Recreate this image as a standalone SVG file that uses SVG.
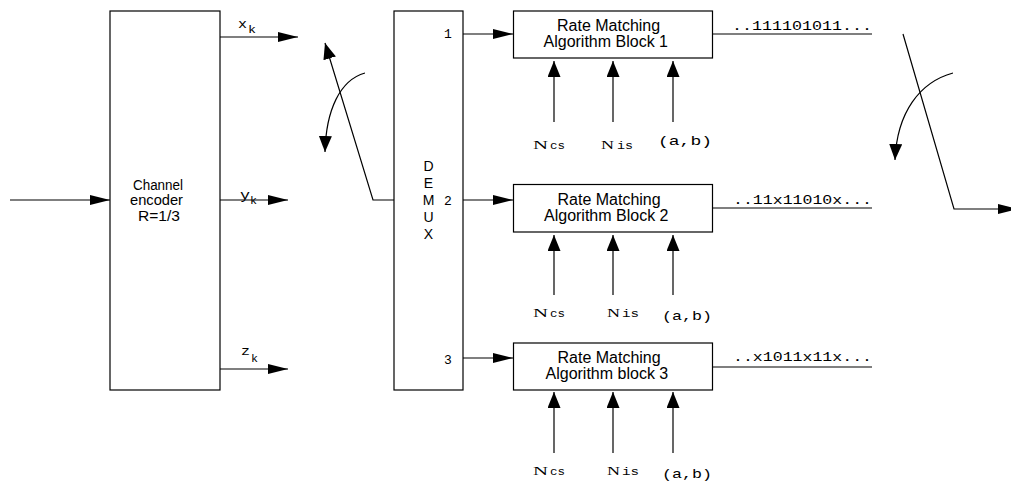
<svg xmlns="http://www.w3.org/2000/svg" width="1011" height="485" viewBox="0 0 1011 485">
<style>
.box{fill:#fff;stroke:#000;stroke-width:1.2}
.ln{fill:none;stroke:#000;stroke-width:1.2}
.sans{font-family:"Liberation Sans",Arial,sans-serif;fill:#000}
.mono{font-family:"Liberation Mono","Courier New",monospace;fill:#000}
.ser{font-family:"Liberation Serif","Times New Roman",serif;fill:#000}
</style>
<defs>
<marker id="ah" markerUnits="userSpaceOnUse" markerWidth="20" markerHeight="10" refX="20" refY="5" orient="auto"><path d="M0,0 L20,5 L0,10 z" fill="#000"/></marker>
<marker id="av" markerUnits="userSpaceOnUse" markerWidth="16" markerHeight="13" refX="16" refY="6.5" orient="auto"><path d="M0,0 L16,6.5 L0,13 z" fill="#000"/></marker>
</defs>
<rect width="1011" height="485" fill="#fff"/>
<g id="connectors">
<line class="ln" x1="10" y1="200" x2="110" y2="200" marker-end="url(#ah)"/>
<line class="ln" x1="220" y1="37" x2="298" y2="37" marker-end="url(#ah)"/>
<line class="ln" x1="220" y1="200" x2="288" y2="200" marker-end="url(#ah)"/>
<line class="ln" x1="220" y1="369" x2="288" y2="369" marker-end="url(#ah)"/>
<polyline class="ln" points="394,200 373,200 325,43" marker-end="url(#av)"/>
<path class="ln" d="M365,73 C340,80 326,110 325,152" marker-end="url(#av)"/>
<line class="ln" x1="463" y1="34" x2="513" y2="34" marker-end="url(#ah)"/>
<line class="ln" x1="463" y1="200" x2="513" y2="200" marker-end="url(#ah)"/>
<line class="ln" x1="463" y1="358" x2="513" y2="358" marker-end="url(#ah)"/>
<line class="ln" x1="554" y1="122" x2="554" y2="61" marker-end="url(#av)"/>
<line class="ln" x1="613" y1="122" x2="613" y2="61" marker-end="url(#av)"/>
<line class="ln" x1="673" y1="122" x2="673" y2="61" marker-end="url(#av)"/>
<line class="ln" x1="554" y1="295" x2="554" y2="235" marker-end="url(#av)"/>
<line class="ln" x1="613" y1="295" x2="613" y2="235" marker-end="url(#av)"/>
<line class="ln" x1="673" y1="295" x2="673" y2="235" marker-end="url(#av)"/>
<line class="ln" x1="554" y1="453" x2="554" y2="392" marker-end="url(#av)"/>
<line class="ln" x1="613" y1="453" x2="613" y2="392" marker-end="url(#av)"/>
<line class="ln" x1="673" y1="453" x2="673" y2="392" marker-end="url(#av)"/>
<line class="ln" x1="713" y1="34" x2="872" y2="34"/>
<line class="ln" x1="713" y1="208" x2="872" y2="208"/>
<line class="ln" x1="713" y1="367" x2="872" y2="367"/>
<polyline class="ln" points="903,34 954,209 1018,209" marker-end="url(#ah)"/>
<path class="ln" d="M953,73 C920,82 897,112 895,160" marker-end="url(#av)"/>
</g>
<g id="encoder">
<rect class="box" x="110" y="11" width="110" height="379"/>
<text class="sans" font-size="14" x="133" y="189.5" textLength="50" lengthAdjust="spacingAndGlyphs">Channel</text>
<text class="sans" font-size="14" x="130" y="205" textLength="53" lengthAdjust="spacingAndGlyphs">encoder</text>
<text class="sans" font-size="14" x="138" y="221" textLength="42" lengthAdjust="spacingAndGlyphs">R=1/3</text>
</g>
<g id="labels-xyz">
<text class="mono" font-size="13" x="238" y="28" textLength="9" lengthAdjust="spacingAndGlyphs">x</text>
<text class="mono" font-size="10" x="248" y="33" textLength="8" lengthAdjust="spacingAndGlyphs">k</text>
<text class="mono" font-size="13" x="240" y="199" textLength="10" lengthAdjust="spacingAndGlyphs">y</text>
<text class="mono" font-size="10" x="250" y="204" textLength="7" lengthAdjust="spacingAndGlyphs">k</text>
<text class="mono" font-size="13" x="241" y="355" textLength="9" lengthAdjust="spacingAndGlyphs">z</text>
<text class="mono" font-size="10" x="251" y="362" textLength="7" lengthAdjust="spacingAndGlyphs">k</text>
</g>
<g id="demux">
<rect class="box" x="394" y="11" width="69" height="379"/>
<g class="sans" font-size="14" text-anchor="middle">
<text x="428.5" y="171">D</text>
<text x="428.5" y="188">E</text>
<text x="428.5" y="205">M</text>
<text x="428.5" y="221.5">U</text>
<text x="428.5" y="238.5">X</text>
</g>
<text class="mono" font-size="13" x="444" y="38">1</text>
<text class="mono" font-size="13" x="444" y="205">2</text>
<text class="mono" font-size="13" x="444" y="364">3</text>
</g>
<g id="rm1">
<rect class="box" x="513.5" y="11" width="199" height="47"/>
<text class="sans" font-size="16" x="557" y="31">Rate Matching</text>
<text class="sans" font-size="16" x="543.5" y="47">Algorithm Block 1</text>
</g>
<g id="rm2">
<rect class="box" x="513.5" y="184.5" width="199" height="47.5"/>
<text class="sans" font-size="16" x="557.5" y="205">Rate Matching</text>
<text class="sans" font-size="16" x="544" y="221">Algorithm Block 2</text>
</g>
<g id="rm3">
<rect class="box" x="513.5" y="343" width="199" height="47"/>
<text class="sans" font-size="16" x="557.5" y="363">Rate Matching</text>
<text class="sans" font-size="16" x="545.5" y="379">Algorithm block 3</text>
</g>
<g id="params1">
<text class="ser" font-size="12" x="533" y="149" textLength="15" lengthAdjust="spacingAndGlyphs">N</text>
<text class="mono" font-size="11" x="550" y="149" textLength="15" lengthAdjust="spacingAndGlyphs">cs</text>
<text class="ser" font-size="12" x="601" y="149" textLength="13" lengthAdjust="spacingAndGlyphs">N</text>
<text class="mono" font-size="11" x="617" y="149" textLength="16" lengthAdjust="spacingAndGlyphs">is</text>
<text class="mono" font-size="13" x="658" y="145" textLength="54" lengthAdjust="spacingAndGlyphs">(a,b)</text>
</g>
<g id="params2">
<text class="ser" font-size="12" x="533" y="316.5" textLength="15" lengthAdjust="spacingAndGlyphs">N</text>
<text class="mono" font-size="11" x="550" y="316.5" textLength="15" lengthAdjust="spacingAndGlyphs">cs</text>
<text class="ser" font-size="12" x="607" y="316.5" textLength="13" lengthAdjust="spacingAndGlyphs">N</text>
<text class="mono" font-size="11" x="622" y="316.5" textLength="17" lengthAdjust="spacingAndGlyphs">is</text>
<text class="mono" font-size="13" x="662" y="320" textLength="50" lengthAdjust="spacingAndGlyphs">(a,b)</text>
</g>
<g id="params3">
<text class="ser" font-size="12" x="533" y="475" textLength="15" lengthAdjust="spacingAndGlyphs">N</text>
<text class="mono" font-size="11" x="550" y="475" textLength="15" lengthAdjust="spacingAndGlyphs">cs</text>
<text class="ser" font-size="12" x="607" y="475" textLength="13" lengthAdjust="spacingAndGlyphs">N</text>
<text class="mono" font-size="11" x="622" y="475" textLength="17" lengthAdjust="spacingAndGlyphs">is</text>
<text class="mono" font-size="13" x="662" y="478" textLength="50" lengthAdjust="spacingAndGlyphs">(a,b)</text>
</g>
<g id="outputs">
<text class="mono" font-size="13" x="732" y="30" textLength="140" lengthAdjust="spacingAndGlyphs">..111101011...</text>
<text class="mono" font-size="13" x="733" y="203.5" textLength="139" lengthAdjust="spacingAndGlyphs">..11x11010x...</text>
<text class="mono" font-size="13" x="733" y="361" textLength="139" lengthAdjust="spacingAndGlyphs">..x1011x11x...</text>
</g>
</svg>
